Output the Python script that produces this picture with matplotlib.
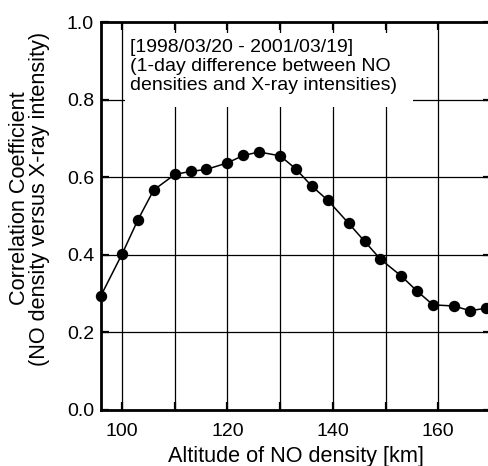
import matplotlib
matplotlib.use("Agg")
import matplotlib.pyplot as plt
from matplotlib.patches import Rectangle

plt.rcParams['font.family'] = ['Liberation Sans', 'DejaVu Sans']

altitude = [96, 100, 103, 106, 110, 113, 116, 120, 123, 126, 130, 133, 136, 139,
            143, 146, 149, 153, 156, 159, 163, 166, 169]
corr = [0.295, 0.402, 0.490, 0.567, 0.607, 0.615, 0.620, 0.637, 0.656, 0.665, 0.655,
        0.621, 0.577, 0.541, 0.481, 0.435, 0.389, 0.345, 0.306, 0.271, 0.268, 0.256, 0.262]

xticks = [100, 120, 140, 160]
yticks = [0.0, 0.2, 0.4, 0.6, 0.8, 1.0]
xgrid = [100, 110, 120, 130, 140, 150, 160]
annotation = "[1998/03/20 - 2001/03/19]\n(1-day difference between NO\ndensities and X-ray intensities)"

fig = plt.figure(figsize=(4.88, 4.66), dpi=100)
ax = fig.add_axes([101/488, 1-410/466, 390/488, 388/466])

for xv in xgrid:
    ax.axvline(xv, color='black', lw=0.9, zorder=1)
for yv in yticks[1:-1]:
    ax.axhline(yv, color='black', lw=0.9, zorder=1)

ax.plot(altitude, corr, color='black', lw=1.1, marker='o', markersize=7.2,
        zorder=3, clip_on=False)

ax.set_xlim(96, 170)
ax.set_ylim(0, 1.0)
ax.set_xticks(xgrid)
ax.set_xticklabels([str(v) if v in xticks else '' for v in xgrid])
ax.set_yticks(yticks)
ax.set_yticklabels([f"{v:.1f}" for v in yticks])
ax.tick_params(direction='in', length=6, width=1.6, labelsize=14,
               top=True, right=True, pad=5)
ax.tick_params(axis='x', pad=9)
for s in ax.spines.values():
    s.set_linewidth(2)

ax.set_xlabel("Altitude of NO density [km]", fontsize=15.6, labelpad=5)
ax.set_ylabel("Correlation Coefficient\n(NO density versus X-ray intensity)",
              fontsize=15.6, linespacing=0.92)
ax.yaxis.set_label_coords(-0.131, 0.545)

ax.add_patch(Rectangle((0.0615, 0.781), 0.7385, 0.191, transform=ax.transAxes,
                       facecolor='white', edgecolor='none', zorder=2))
ax.text(0.074, 0.957, annotation, transform=ax.transAxes, fontsize=14,
        va='top', ha='left', linespacing=1.15, zorder=2.5)

fig.savefig("out.png", dpi=100)
